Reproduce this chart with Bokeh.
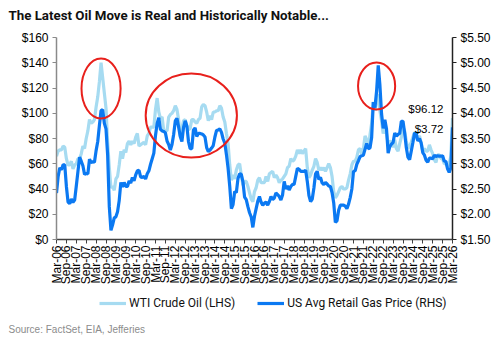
import math
from bokeh.plotting import figure
from bokeh.layouts import column
from bokeh.models import (Range1d, LinearAxis, FixedTicker, NumeralTickFormatter,
                          Legend, LegendItem, Label, ColumnDataSource)
from bokeh.embed import file_html
from bokeh.resources import INLINE

# ---------------- data (monthly, Mar-2006 .. Mar-2026) ----------------
wti = [
    66, 70, 71, 71, 74, 73, 64, 59, 59, 62,                       # 2006 Mar-Dec
    56, 59, 60, 64, 64, 68, 74, 72, 80, 86, 95, 92,               # 2007
    93, 95, 105, 113, 125, 140, 128, 116, 104, 77, 57, 41,        # 2008
    42, 39, 48, 50, 59, 70, 64, 71, 69, 76, 78, 75,               # 2009
    78, 76, 81, 84, 74, 75, 76, 77, 75, 82, 84, 89,               # 2010
    89, 89, 103, 112, 101, 96, 97, 86, 86, 86, 97, 99,            # 2011
    100, 102, 106, 103, 95, 82, 88, 94, 95, 90, 87, 88,           # 2012
    95, 95, 93, 92, 95, 96, 105, 107, 106, 101, 94, 98,           # 2013
    95, 101, 101, 102, 102, 106, 104, 97, 93, 84, 76, 59,         # 2014
    47, 51, 48, 55, 59, 60, 51, 43, 46, 46, 42, 37,               # 2015
    32, 30, 38, 41, 47, 49, 45, 45, 45, 50, 46, 52,               # 2016
    53, 54, 49, 51, 49, 45, 47, 48, 50, 52, 57, 58,               # 2017
    64, 62, 63, 66, 71, 68, 71, 68, 70, 72, 57, 49,               # 2018
    51, 55, 58, 64, 61, 55, 57, 55, 57, 54, 57, 60,               # 2019
    57, 50, 38, 33, 35, 38, 41, 42, 40, 40, 41, 47,               # 2020
    52, 59, 62, 62, 65, 71, 72, 68, 72, 82, 79, 72,               # 2021
    83, 92, 109, 102, 110, 115, 102, 94, 84, 88, 84, 76,          # 2022
    78, 77, 73, 79, 72, 70, 76, 81, 89, 86, 78, 72,               # 2023
    74, 77, 81, 85, 80, 80, 82, 77, 70, 72, 70, 70,               # 2024
    75, 71, 68, 63, 61, 67, 67, 64, 64, 60, 60, 58,               # 2025
    60, 66, 96.12,                                                # 2026 Jan-Mar
]

gas = [
    2.42, 2.75, 2.92, 2.88, 2.98, 2.98, 2.55, 2.24, 2.21, 2.30,
    2.24, 2.28, 2.56, 2.85, 3.13, 3.05, 2.96, 2.79, 2.81, 2.80, 3.09, 3.02,
    3.04, 3.03, 3.26, 3.44, 3.76, 4.05, 4.07, 3.80, 3.69, 3.17, 2.15, 1.68,
    1.79, 1.93, 1.95, 2.05, 2.27, 2.63, 2.54, 2.63, 2.55, 2.55, 2.66, 2.62,
    2.73, 2.66, 2.78, 2.86, 2.87, 2.74, 2.73, 2.75, 2.70, 2.80, 2.86, 2.99,
    3.10, 3.21, 3.56, 3.80, 3.91, 3.68, 3.65, 3.64, 3.61, 3.45, 3.38, 3.27,
    3.38, 3.58, 3.85, 3.90, 3.73, 3.54, 3.44, 3.72, 3.85, 3.75, 3.44, 3.30,
    3.30, 3.67, 3.71, 3.54, 3.60, 3.60, 3.59, 3.57, 3.53, 3.32, 3.24, 3.27,
    3.31, 3.36, 3.53, 3.66, 3.67, 3.69, 3.62, 3.49, 3.41, 3.18, 2.91, 2.55,
    2.11, 2.19, 2.45, 2.43, 2.71, 2.80, 2.79, 2.64, 2.34, 2.29, 2.15, 2.03,
    1.95, 1.74, 1.96, 2.11, 2.26, 2.35, 2.24, 2.18, 2.22, 2.24, 2.18, 2.25,
    2.35, 2.29, 2.32, 2.42, 2.39, 2.35, 2.28, 2.38, 2.65, 2.50, 2.56, 2.48,
    2.55, 2.59, 2.59, 2.75, 2.91, 2.89, 2.85, 2.85, 2.85, 2.87, 2.65, 2.37,
    2.25, 2.30, 2.52, 2.80, 2.85, 2.69, 2.73, 2.62, 2.59, 2.63, 2.60, 2.56,
    2.55, 2.43, 2.23, 1.84, 1.87, 2.08, 2.18, 2.18, 2.18, 2.16, 2.11, 2.20,
    2.33, 2.50, 2.85, 2.86, 2.99, 3.06, 3.14, 3.16, 3.17, 3.29, 3.40, 3.30,
    3.31, 3.52, 4.22, 4.11, 4.44, 4.95, 4.56, 3.99, 3.70, 3.87, 3.69, 3.21,
    3.34, 3.39, 3.42, 3.61, 3.55, 3.58, 3.60, 3.84, 3.84, 3.61, 3.32, 3.13,
    3.08, 3.25, 3.42, 3.61, 3.60, 3.45, 3.50, 3.41, 3.22, 3.17, 3.07, 3.03,
    3.11, 3.11, 3.10, 3.17, 3.14, 3.16, 3.15, 3.15, 3.16, 3.05, 3.05, 2.90,
    2.83, 2.92, 3.72,
]

months = list(range(len(wti)))          # 0 = Mar-06
tick_labels = []
for i in range(0, len(wti), 6):
    y = 6 + (i + 2) // 12
    tick_labels.append(("Mar" if i % 12 == 0 else "Sep") + "-%02d" % y)

left_ticks = [0, 20, 40, 60, 80, 100, 120, 140, 160]
right_ticks = [1.5, 2.0, 2.5, 3.0, 3.5, 4.0, 4.5, 5.0, 5.5]

series_names = ["WTI Crude Oil (LHS)", "US Avg Retail Gas Price (RHS)"]
title_text = "The Latest Oil Move is Real and Historically Notable..."
source_text = "Source: FactSet, EIA, Jefferies"

# highlighted episodes (centre month, centre $ on LHS, width months, height $)
ell_x = [27, 81.7, 194]
ell_y = [119.6, 98.2, 121.6]
ell_w = [23.7, 55.3, 22.5]
ell_h = [47.5, 66.5, 37.2]

LIGHT = "#A6DBF1"
DARK = "#0B79F2"
SANS = "Liberation Sans"


def blank(h):
    f = figure(width=499, height=h, output_backend="svg", toolbar_location=None,
               x_range=Range1d(0, 1), y_range=Range1d(0, 1),
               min_border=0, y_axis_location=None, x_axis_location=None)
    f.frame_align = False
    f.title.visible = False
    f.outline_line_color = None
    f.xgrid.visible = False
    f.ygrid.visible = False
    return f


# ---------------- header: title ----------------
head = blank(30)
head.add_layout(Label(x=8, y=15, x_units="screen", y_units="screen", text=title_text,
                      text_font="Roboto", text_font_style="bold", text_font_size="13.3px",
                      text_baseline="middle", text_color="#111111"))

# ---------------- main chart ----------------
fig = figure(width=499, height=260, output_backend="svg", toolbar_location=None,
             x_range=Range1d(0, 240), y_range=Range1d(0, 160),
             min_border_left=56, min_border_right=47, min_border_top=7,
             min_border_bottom=51, y_axis_location=None, x_axis_location=None)
fig.frame_align = False
fig.title.visible = False
fig.outline_line_color = None
fig.xgrid.visible = False
fig.ygrid.visible = False
fig.extra_y_ranges = {"gas": Range1d(1.5, 5.5)}

xa = LinearAxis(ticker=FixedTicker(ticks=list(range(0, 241, 6))),
                major_label_overrides={i * 6: t for i, t in enumerate(tick_labels)},
                major_label_orientation=math.pi / 2)
ya = LinearAxis(ticker=FixedTicker(ticks=left_ticks),
                formatter=NumeralTickFormatter(format="$0"))
yr = LinearAxis(y_range_name="gas", ticker=FixedTicker(ticks=right_ticks),
                formatter=NumeralTickFormatter(format="$0.00"))
for ax, col in ((xa, "#404040"), (ya, "#8a8a8a"), (yr, "#222222")):
    ax.axis_line_color = col
    ax.axis_line_width = 1.5
    ax.major_tick_line_color = col
    ax.major_tick_out = 4
    ax.major_tick_in = 0
    ax.minor_tick_line_color = None
    ax.major_label_text_font = SANS
    ax.major_label_text_font_size = "12px"
    ax.major_label_text_color = "#000000"
    ax.major_label_standoff = 4
xa.major_label_standoff = 2
fig.add_layout(xa, "below")
fig.add_layout(ya, "left")
fig.add_layout(yr, "right")

src = ColumnDataSource(dict(m=months, wti=wti, gas=gas))
fig.line("m", "wti", source=src, line_color=LIGHT, line_width=3.2)
fig.line("m", "gas", source=src, y_range_name="gas", line_color=DARK, line_width=3.2)

fig.ellipse(x=ell_x, y=ell_y, width=ell_w, height=ell_h, fill_alpha=0,
            line_color="#E8201C", line_width=2)

fig.add_layout(Label(x=months[-1], y=wti[-1], text="$%.2f" % wti[-1], text_align="right",
                     text_baseline="middle", x_offset=-9, y_offset=9,
                     text_font=SANS, text_font_size="11.5px", text_color="#000000"))
fig.add_layout(Label(x=months[-1], y=gas[-1], y_range_name="gas", text="$%.2f" % gas[-1],
                     text_align="right", text_baseline="middle", x_offset=-9, y_offset=-2,
                     text_font=SANS, text_font_size="11.5px", text_color="#000000"))

# ---------------- footer: legend + source ----------------
foot = blank(52)
nan = float("nan")
l1 = foot.line(x=[nan], y=[nan], line_color=LIGHT, line_width=3.2)
l2 = foot.line(x=[nan], y=[nan], line_color=DARK, line_width=3.2)
legend = Legend(items=[LegendItem(label=series_names[0], renderers=[l1]),
                       LegendItem(label=series_names[1], renderers=[l2])],
                orientation="horizontal", location=(99, 29), padding=0, margin=0,
                spacing=22, glyph_width=27, glyph_height=20, label_standoff=3,
                label_text_font="Roboto", label_text_font_size="12px",
                label_text_color="#111111",
                border_line_alpha=0, background_fill_alpha=0)
foot.add_layout(legend, "center")
foot.add_layout(Label(x=8, y=13, x_units="screen", y_units="screen", text=source_text,
                      text_font=SANS, text_font_size="10px",
                      text_baseline="middle", text_color="#8c8c8c"))

p = column(head, fig, foot, spacing=0)
open("out.html", "w").write(file_html(p, INLINE))
